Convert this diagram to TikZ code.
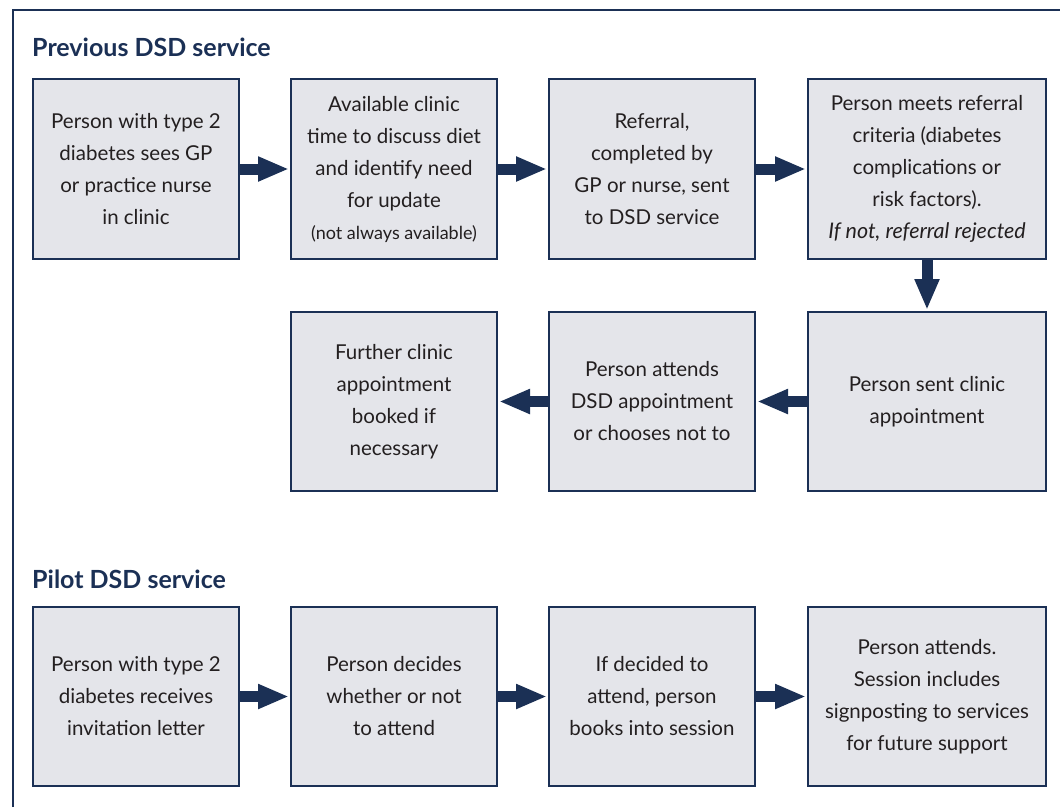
\documentclass[tikz,border=0pt]{standalone}
\usepackage{fontspec}
\setmainfont{Lato}
\usetikzlibrary{positioning, arrows.meta}

\definecolor{navy}{HTML}{1B3055}
\definecolor{boxfill}{HTML}{E4E5EA}
\definecolor{txt}{HTML}{231F20}

\tikzset{
  box/.style={draw=navy, line width=2.4pt, fill=boxfill, text=txt, align=center,
    minimum width=205.6pt, minimum height=179.6pt, inner sep=0pt,
    font=\fontsize{20.5}{32}\selectfont},
  wbox/.style={box, minimum width=237.6pt},
  arr/.style={navy, line width=11pt, -{Triangle[length=31pt,width=23pt]}, shorten >=1pt},
  title/.style={navy, anchor=west, inner sep=0pt, font=\fontsize{25}{30}\bfseries\selectfont}
}

\begin{document}
\begin{tikzpicture}
        \useasboundingbox (0,0) rectangle (1060pt,-807pt);
        \draw[navy, line width=1.5pt] (13pt,-807pt) -- (13pt,-10pt) -- (1060pt,-10pt);

        % previous service
        \node[title] (t1) at (32pt,-47pt) {Previous DSD service};
        \node[box] (p1) at (136pt,-169pt) {Person with type 2\\diabetes sees GP\\or practice nurse\\in clinic};
        \node[box, right=50pt of p1] (p2) {Available clinic\\time to discuss diet\\and identify need\\for update\\{\fontsize{18}{32}\selectfont (not always available)}};
        \node[box, right=50pt of p2] (p3) {Referral,\\completed by\\GP or nurse, sent\\to DSD service};
        \node[wbox, right=51pt of p3] (p4) {Person meets referral\\criteria (diabetes\\complications or\\risk factors).\\{\fontsize{21.5}{32}\itshape\selectfont If not, referral rejected}};
        \node[wbox, minimum height=178.6pt, below=51pt of p4] (p5) {Person sent clinic\\appointment};
        \node[box, minimum height=178.6pt, left=51pt of p5] (p6) {Person attends\\DSD appointment\\or chooses not to};
        \node[box, minimum height=178.6pt, left=50pt of p6] (p7) {Further clinic\\appointment\\booked if\\necessary};

        \draw[arr] (p1) -- (p2);
        \draw[arr] (p2) -- (p3);
        \draw[arr] (p3) -- (p4);
        \draw[arr] (p4) -- (p5);
        \draw[arr] (p5) -- (p6);
        \draw[arr] (p6) -- (p7);

        % pilot service
        \node[title] (t2) at (32pt,-579pt) {Pilot DSD service};
        \node[box, minimum height=178.6pt] (s1) at (136pt,-696.5pt) {Person with type 2\\diabetes receives\\invitation letter};
        \node[box, minimum height=178.6pt, right=50pt of s1] (s2) {Person decides\\whether or not\\to attend};
        \node[box, minimum height=178.6pt, right=50pt of s2] (s3) {If decided to\\attend, person\\books into session};
        \node[wbox, minimum height=178.6pt, right=51pt of s3] (s4) {Person attends.\\Session includes\\signposting to services\\for future support};

        \draw[arr] (s1) -- (s2);
        \draw[arr] (s2) -- (s3);
        \draw[arr] (s3) -- (s4);
\end{tikzpicture}
\end{document}
